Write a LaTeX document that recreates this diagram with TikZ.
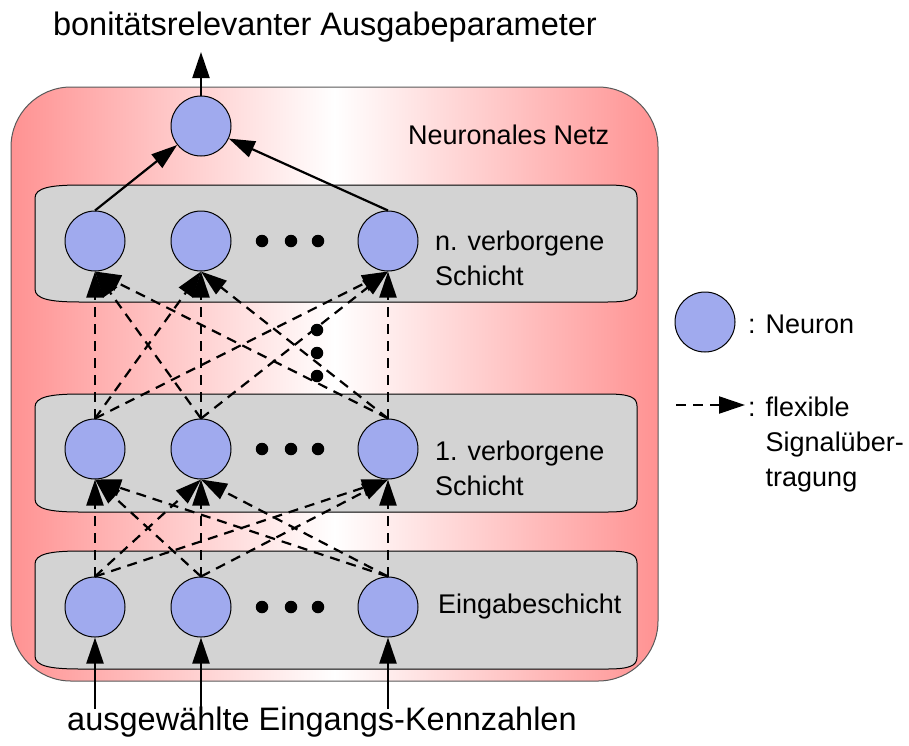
\documentclass[tikz,border=0pt]{standalone}
\usepackage{fontspec}
\setmainfont{Liberation Sans}
\usetikzlibrary{arrows.meta}
\definecolor{netpink}{RGB}{255,146,146}
\definecolor{layergray}{RGB}{211,211,211}
\definecolor{neuronblue}{RGB}{160,170,238}
\tikzset{
  neuron/.style={circle, draw=black, line width=1pt, fill=neuronblue, minimum size=60pt, inner sep=0pt},
  sig/.style={line width=2.2pt, -{Triangle[length=26pt,width=17pt]}},
  flex/.style={sig, dash pattern=on 10pt off 7pt},
  dotmark/.style={circle, fill=black, minimum size=12.5pt, inner sep=0pt},
  lbl/.style={font=\fontsize{27}{35}\selectfont, align=left, inner sep=0pt},
  big/.style={font=\fontsize{32.5}{38}\selectfont, inner sep=0pt}
}
% layer band with flared corners
\newcommand{\layerband}[4]{%
  \draw[line width=1pt, fill=layergray]
    (#1,#2+13) .. controls (#1,#2+3) and (#1+15,#2) .. (#1+45,#2)
    -- (#3-30,#2) .. controls (#3-8,#2) and (#3,#2+3) .. (#3,#2+12)
    -- (#3,#4-12) .. controls (#3,#4-3) and (#3-8,#4) .. (#3-30,#4)
    -- (#1+45,#4) .. controls (#1+15,#4) and (#1,#4-3) .. (#1,#4-13) -- cycle;}
\begin{document}
\begin{tikzpicture}[x=1pt, y=-1pt]
\useasboundingbox (0,0) rectangle (909,745);

% network frame
\draw[line width=1pt, draw=black!65, rounded corners=60pt,
      left color=netpink, right color=netpink, middle color=white]
  (11,87) rectangle (658,681);
\node[lbl, anchor=west] (netlbl) at (408,135) {Neuronales Netz};

% layers
\layerband{35}{185}{637}{302}
\layerband{35}{394}{637}{512}
\layerband{35}{551}{637}{669}

\node[lbl, anchor=west] (nlbl) at (435,258) {n. verborgene\\Schicht};
\node[lbl, anchor=west] (hlbl) at (435,468) {1. verborgene\\Schicht};
\node[lbl, anchor=west] (ilbl) at (438,607) {Eingabeschicht};

% neurons
\node[neuron] (o)  at (201,126) {};
\node[neuron] (n1) at (95,241) {};
\node[neuron] (n2) at (201,241) {};
\node[neuron] (n3) at (388,241) {};
\node[neuron] (h1) at (95,449) {};
\node[neuron] (h2) at (201,449) {};
\node[neuron] (h3) at (388,449) {};
\node[neuron] (i1) at (95,607) {};
\node[neuron] (i2) at (201,607) {};
\node[neuron] (i3) at (388,607) {};

% ellipsis dots
\foreach \yy/\nm in {241/n, 449/h, 607/i}{
  \node[dotmark] (\nm d1) at (262,\yy) {};
  \node[dotmark] (\nm d2) at (291,\yy) {};
  \node[dotmark] (\nm d3) at (318,\yy) {};
}
\node[dotmark] (vd1) at (317,330) {};
\node[dotmark] (vd2) at (317,353) {};
\node[dotmark] (vd3) at (317,376) {};

% flexible connections
\foreach \s in {1,2,3}{
  \foreach \t in {1,2,3}{
    \draw[flex] (i\s.north) -- (h\t.south);
    \draw[flex] (h\s.north) -- (n\t.south);
  }
}

% output connections
\draw[sig] (n1.north) -- (o);
\draw[sig] (n3.north) -- (o);
\coordinate (outtop) at (201,52);
\draw[sig] (o.north) -- (outtop);
\node[big] (outlbl) at (325,27) {bonitätsrelevanter Ausgabeparameter};

% inputs
\coordinate (in1) at (95,709);
\coordinate (in2) at (201,709);
\coordinate (in3) at (388,709);
\draw[sig] (in1) -- (i1.south);
\draw[sig] (in2) -- (i2.south);
\draw[sig] (in3) -- (i3.south);
\node[big] (inlbl) at (322,722) {ausgewählte Eingangs-Kennzahlen};

% legend
\node[neuron] (legn) at (705,322) {};
\node[lbl, anchor=west] (legnl) at (748,324) {: Neuron};
\coordinate (lega) at (676,405);
\coordinate (legb) at (745,405);
\draw[flex] (lega) -- (legb);
\node[lbl, anchor=north west] (legfl) at (748,392)
  {: \begin{tabular}[t]{@{}l@{}}flexible\\Signalüber-\\tragung\end{tabular}};
\end{tikzpicture}
\end{document}
